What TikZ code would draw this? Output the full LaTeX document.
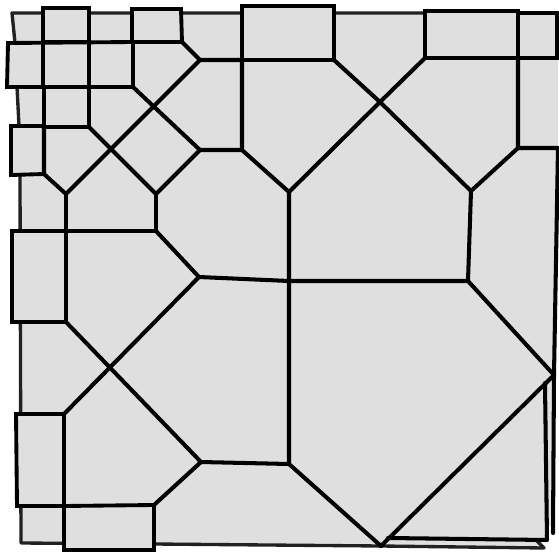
\documentclass[tikz,border=0pt]{standalone}
\usepackage{tikz}
\definecolor{sheetgray}{RGB}{223,223,223}
\definecolor{rimgray}{RGB}{35,32,32}
\tikzset{
  sheet/.style={fill=sheetgray},
  rim/.style={draw=rimgray,line width=1.9pt,line join=round},
  flap/.style={draw=black,fill=sheetgray,line width=2.2pt,line join=miter},
  fold/.style={draw=black,line width=2.3pt,line cap=round,line join=round}
}
\begin{document}
\begin{tikzpicture}[x=0.02cm,y=-0.02cm]
    \useasboundingbox (0,0) rectangle (559,552);
    % --- vertices
    \coordinate (TL) at (200,60);
    \coordinate (ML) at (200,150);
    \coordinate (D1) at (66,194);
    \coordinate (D2) at (156,194);
    \coordinate (C1) at (199,277);
    \coordinate (C2) at (289,281);
    \coordinate (C3) at (468,281);
    \coordinate (U1) at (289,192);
    \coordinate (U2) at (380,102);
    \coordinate (U3) at (471,191);
    \coordinate (R1) at (554,375);
    \coordinate (B1) at (381,546);
    \coordinate (B2) at (289,464);
    \coordinate (B3) at (201,462);
    \coordinate (L1) at (64,414);
    \coordinate (L2) at (66,322);
    % --- paper behind everything
    \path[sheet] (12,13) -- (558,13) -- (558,148) -- (R1) -- (553,530)
      -- (547,522) -- (547,540) -- (537,541) -- (544,548) -- (B1) -- (154,544)
      -- (21,543) -- (20,177) -- (19,126) -- (17,87) -- (15,43) -- cycle;
    \draw[rim] (558,13) -- (12,13) -- (15,43) -- (17,87) -- (19,126) -- (20,177)
      -- (21,543) -- (154,544) -- (B1) -- (544,548) -- (537,541);
    % --- flaps on the rim
    \path[flap] (43,8) -- (89,8) -- (89,42) -- (43,42) -- cycle;
    \path[flap] (132,9) -- (181,9) -- (182,42) -- (132,42) -- cycle;
    \path[flap] (8,43) -- (133,42) -- (133,87) -- (7,87) -- cycle;
    \path[flap] (11,126) -- (44,126) -- (44,174) -- (11,175) -- cycle;
    \path[flap] (12,231) -- (66,231) -- (66,322) -- (12,322) -- cycle;
    \path[flap] (16,414) -- (64,414) -- (64,506) -- (17,506) -- cycle;
    \path[flap] (64,506) -- (154,505) -- (154,550) -- (64,550) -- cycle;
    \path[flap] (242,6) -- (334,6) -- (334,60) -- (242,60) -- cycle;
    \path[flap] (425,11) -- (518,11) -- (518,58) -- (425,58) -- cycle;
    \path[flap] (518,13) -- (557,13) -- (557,58) -- (518,58) -- cycle;
    \path[flap] (44,87) -- (89,87) -- (89,127) -- (44,127) -- cycle;
    % --- upper left corner
    \draw[fold] (43,42) -- (43,87);
    \draw[fold] (89,42) -- (89,87);
    \draw[fold] (44,127) -- (44,174) -- (D1);
    \draw[fold] (182,42) -- (TL) -- (242,60);
    \draw[fold] (TL) -- (D1);
    \draw[fold] (133,87) -- (ML) -- (242,150);
    \draw[fold] (89,127) -- (D2) -- (ML);
    % --- left side
    \draw[fold] (D1) -- (66,231);
    \draw[fold] (D2) -- (156,231) -- (66,231);
    \draw[fold] (156,231) -- (C1) -- (C2) -- (C3);
    \draw[fold] (C1) -- (L1);
    \draw[fold] (L2) -- (B3) -- (B2);
    \draw[fold] (154,505) -- (B3);
    % --- middle
    \draw[fold] (242,60) -- (242,150) -- (U1) -- (C2) -- (B2) -- (B1);
    \draw[fold] (U1) -- (U2) -- (U3) -- (C3) -- (R1) -- (B1);
    \draw[fold] (334,60) -- (U2) -- (425,58);
    % --- right side
    \draw[fold] (518,58) -- (518,148) -- (U3);
    \draw[fold] (518,148) -- (558,148) -- (R1);
    \draw[fold] (545,383) -- (547,540) -- (388,538);
    \draw[fold] (R1) -- (553,533);
\end{tikzpicture}
\end{document}
